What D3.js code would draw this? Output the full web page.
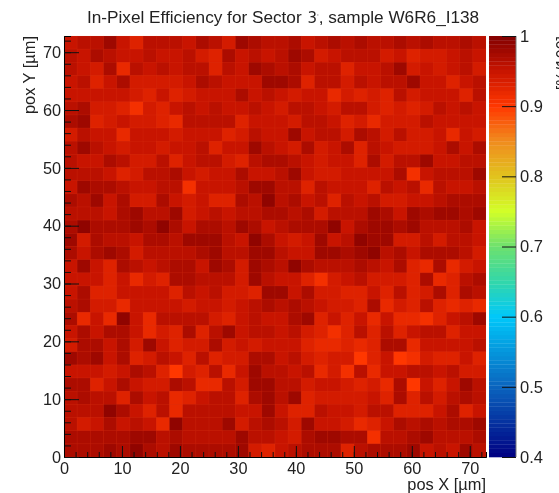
<!DOCTYPE html>
<html>
<head>
<meta charset="utf-8">
<title>In-Pixel Efficiency</title>
<script src="https://cdnjs.cloudflare.com/ajax/libs/d3/7.8.5/d3.min.js"></script>
<style>
  html, body { margin: 0; padding: 0; background: #fff; overflow: hidden; }
  svg { display: block; filter: blur(.4px); }
  text { font-family: "Liberation Sans", Arial, sans-serif; fill: #222; }
</style>
</head>
<body>
<svg width="559" height="493"></svg>
<script>
'use strict'

var title = 'In-Pixel Efficiency for Sector '
var titleEnd = ', sample W6R6_I138'
var xLabel = 'pos X [µm]'
var yLabel = 'pox Y [µm]'
var zLabel = '[%/100]'

var xMajor = [0, 10, 20, 30, 40, 50, 60, 70]
var yMajor = [0, 10, 20, 30, 40, 50, 60, 70]
var zMajor = [0.4, 0.5, 0.6, 0.7, 0.8, 0.9, 1]
var xMinor = d3.range(0, 73, 2)
var yMinor = d3.range(0, 73, 2)

var axisMax = 72.8
var binCount = 32

// palette stops
var zStops = [0.4, 0.5, 0.6, 0.65, 0.7, 0.75, 0.8, 0.85, 0.9, 0.95, 1]
var zColours = ['#000082', '#0a64be', '#00c8fa', '#32d7aa', '#6ee16e', '#d2ff28', '#e1c31e', '#f08c1e', '#ff3700', '#c81400', '#820000']

// efficiency per bin, top row first
var rows = [
  [.95,.96,.96,.98,.95,.93,.96,.96,.96,.95,.97,.96,.94,.98,.97,.96,.96,.97,.95,.96,.97,.96,.97,.96,.96,.97,.96,.97,.96,.96,.97,.96],
  [.96,.95,.97,.96,.95,.95,.96,.95,.95,.96,.94,.93,.97,.95,.96,.95,.96,.98,.97,.94,.95,.96,.96,.96,.94,.95,.93,.94,.94,.95,.96,.95],
  [.96,.95,.94,.97,.92,.96,.95,.96,.95,.96,.96,.93,.96,.95,.98,.97,.96,.97,.95,.96,.96,.93,.95,.95,.96,.98,.94,.95,.94,.95,.96,.94],
  [.95,.96,.93,.95,.97,.94,.94,.94,.94,.95,.97,.96,.95,.95,.95,.98,.98,.97,.93,.96,.96,.94,.96,.95,.96,.96,.98,.95,.95,.93,.95,.96],
  [.95,.95,.95,.95,.95,.94,.93,.95,.93,.94,.95,.95,.95,.97,.95,.96,.95,.94,.95,.95,.92,.94,.93,.94,.93,.96,.94,.95,.95,.95,.93,.96],
  [.96,.97,.94,.94,.93,.91,.94,.93,.95,.96,.95,.96,.95,.95,.96,.95,.94,.96,.96,.95,.94,.96,.96,.94,.93,.94,.93,.94,.96,.95,.96,.95],
  [.97,.98,.93,.94,.95,.94,.94,.93,.92,.96,.96,.96,.96,.93,.95,.95,.95,.94,.96,.96,.95,.93,.94,.92,.94,.94,.94,.96,.95,.95,.95,.95],
  [.94,.96,.95,.95,.92,.95,.95,.95,.94,.95,.95,.95,.93,.94,.96,.95,.95,.98,.95,.96,.96,.94,.97,.96,.94,.96,.94,.94,.95,.92,.95,.94],
  [.96,.98,.96,.95,.94,.95,.95,.94,.95,.95,.96,.93,.95,.95,.98,.96,.95,.94,.97,.94,.95,.97,.93,.96,.95,.94,.94,.94,.95,.97,.95,.97],
  [.96,.95,.95,.97,.96,.94,.94,.96,.93,.95,.96,.96,.94,.93,.96,.97,.97,.96,.95,.94,.95,.95,.93,.97,.94,.96,.96,.98,.95,.95,.96,.96],
  [.96,.96,.96,.95,.93,.94,.96,.96,.97,.95,.94,.95,.95,.97,.95,.95,.96,.98,.95,.94,.94,.95,.95,.95,.95,.97,.91,.95,.96,.96,.96,.98],
  [.95,.98,.97,.97,.96,.95,.95,.96,.96,.91,.95,.95,.95,.96,.98,.98,.96,.96,.93,.96,.95,.95,.95,.93,.96,.95,.96,.92,.96,.95,.95,.96],
  [.97,.96,.98,.95,.97,.94,.94,.97,.95,.94,.95,.93,.93,.97,.96,.99,.96,.97,.95,.96,.93,.96,.95,.96,.94,.94,.95,.95,.96,.97,.97,.97],
  [.96,.96,.96,.95,.97,.98,.96,.96,.98,.94,.95,.96,.95,.96,.96,.97,.97,.96,.97,.94,.96,.96,.96,.98,.97,.95,.98,.97,.98,.98,.97,.98],
  [.97,.99,.97,.97,.97,.98,.97,.99,.97,.95,.97,.97,.96,.98,.97,.95,.96,.97,.97,.97,.99,.95,.97,.98,.98,.97,.98,.96,.96,.96,.97,.95],
  [.98,.94,.97,.96,.96,.95,.97,.97,.96,.98,.98,.98,.96,.95,.99,.97,.95,.94,.95,.98,.95,.96,.99,.98,.98,.94,.94,.96,.94,.96,.96,.95],
  [.97,.95,.97,.98,.97,.94,.96,.96,.96,.96,.97,.98,.96,.96,.98,.98,.96,.95,.95,.98,.98,.97,.98,.99,.96,.97,.95,.97,.97,.97,.96,.94],
  [.95,.98,.95,.93,.97,.96,.95,.96,.97,.97,.95,.98,.97,.94,.98,.97,.96,.99,.97,.96,.96,.96,.97,.96,.95,.97,.93,.92,.97,.92,.94,.95],
  [.95,.95,.95,.93,.95,.92,.94,.93,.97,.97,.96,.96,.96,.94,.98,.96,.95,.95,.93,.91,.94,.95,.96,.94,.94,.94,.93,.97,.92,.93,.96,.97],
  [.95,.97,.93,.93,.95,.95,.95,.95,.93,.96,.95,.96,.94,.94,.93,.98,.98,.95,.97,.94,.94,.93,.93,.95,.93,.96,.93,.94,.97,.93,.97,.96],
  [.96,.97,.94,.94,.92,.95,.95,.95,.95,.94,.95,.95,.94,.95,.96,.97,.96,.97,.96,.95,.94,.94,.93,.97,.92,.94,.93,.96,.93,.92,.93,.92],
  [.97,.92,.95,.92,.99,.95,.92,.96,.96,.96,.96,.94,.93,.95,.96,.95,.95,.97,.98,.93,.95,.93,.95,.92,.95,.92,.92,.91,.93,.95,.96,.98],
  [.95,.97,.95,.97,.97,.95,.92,.94,.93,.97,.93,.96,.98,.95,.96,.96,.95,.96,.94,.93,.91,.93,.96,.93,.96,.93,.95,.96,.96,.93,.95,.95],
  [.94,.97,.97,.95,.97,.94,.98,.95,.93,.94,.94,.97,.94,.95,.94,.95,.95,.95,.93,.92,.92,.93,.92,.93,.97,.97,.92,.95,.95,.95,.95,.96],
  [.98,.97,.98,.95,.97,.93,.94,.96,.95,.93,.96,.93,.94,.94,.97,.97,.95,.96,.94,.93,.94,.94,.90,.93,.95,.90,.91,.94,.93,.93,.95,.93],
  [.95,.95,.95,.94,.95,.97,.96,.93,.90,.94,.93,.96,.92,.95,.98,.96,.96,.95,.96,.92,.94,.91,.96,.92,.95,.95,.96,.96,.95,.96,.94,.94],
  [.97,.97,.93,.95,.97,.95,.94,.94,.97,.96,.92,.92,.96,.94,.98,.98,.96,.96,.94,.95,.95,.94,.93,.94,.92,.97,.90,.95,.93,.95,.98,.96],
  [.96,.97,.96,.96,.93,.97,.95,.96,.92,.93,.95,.96,.96,.93,.97,.98,.96,.98,.93,.94,.94,.94,.94,.95,.93,.97,.93,.96,.94,.96,.97,.96],
  [.96,.96,.96,.99,.97,.95,.93,.96,.92,.96,.96,.96,.96,.95,.95,.98,.95,.93,.93,.96,.95,.95,.94,.96,.96,.93,.93,.93,.95,.97,.93,.95],
  [.96,.94,.95,.97,.95,.96,.95,.92,.99,.96,.96,.96,.98,.94,.96,.97,.96,.94,.98,.95,.95,.94,.92,.93,.95,.97,.96,.97,.96,.97,.97,.98],
  [.97,.97,.97,.97,.97,.98,.98,.96,.97,.96,.96,.96,.96,.98,.96,.96,.95,.94,.97,.98,.98,.97,.97,.91,.96,.96,.97,.98,.96,.96,.96,.97],
  [.97,.97,.97,.98,.97,.99,.97,.96,.98,.97,.97,.97,.97,.98,.94,.93,.95,.96,.97,.97,.97,.93,.96,.97,.97,.97,.98,.95,.96,.95,.98,.96]
]

var svg = d3.select('svg')

var plot = { left: 64, right: 486, top: 36, bottom: 457 }
var bar = { left: 489, right: 516 }

var x = d3.scaleLinear().domain([0, axisMax]).range([plot.left, plot.right])
var y = d3.scaleLinear().domain([0, axisMax]).range([plot.bottom, plot.top])
var z = d3.scaleLinear().domain([0.4, 1]).range([plot.bottom, plot.top])
var colour = d3.scaleLinear().domain(zStops).range(zColours).clamp(true)

var binWidth = axisMax / binCount

// flatten the rows to one record per bin
var bins = []
rows.forEach(function(row, r) {
  row.forEach(function(v, c) {
    bins.push({ col: c, row: binCount - 1 - r, value: v })
  })
})

// red backing so the seams between bins do not show white
svg.append('rect')
  .attr('x', plot.left)
  .attr('y', plot.top)
  .attr('width', plot.right - plot.left)
  .attr('height', plot.bottom - plot.top)
  .attr('fill', '#c81a00')

svg.append('g')
  .selectAll('rect')
  .data(bins)
  .enter().append('rect')
  .attr('x', function(d) { return x(d.col * binWidth) })
  .attr('y', function(d) { return y((d.row + 1) * binWidth) })
  .attr('width', x(binWidth) - x(0))
  .attr('height', y(0) - y(binWidth))
  .attr('fill', function(d) { return colour(d.value) })
  .attr('stroke', 'rgba(255,110,70,.09)')
  .attr('stroke-width', 0.8)

// colour bar, drawn as narrow stripes like the original palette
var stripes = d3.range(0, 100).map(function(i) { return 0.4 + i * 0.006 })
svg.append('g')
  .selectAll('rect')
  .data(stripes)
  .enter().append('rect')
  .attr('x', bar.left)
  .attr('y', function(d) { return z(d + 0.006) })
  .attr('width', bar.right - bar.left)
  .attr('height', z(0.4) - z(0.4 + 0.006) + 0.3)
  .attr('fill', function(d) { return colour(d + 0.003) })

svg.append('line')
  .attr('x1', bar.right).attr('x2', bar.right)
  .attr('y1', plot.top).attr('y2', plot.bottom)
  .attr('stroke', '#777')
  .attr('stroke-width', 1)

var tickFont = '16.3px'

var drawAxis = function(axis, translate, size) {
  var g = svg.append('g')
    .attr('transform', translate)
    .call(axis)
  g.selectAll('text').style('font-size', size).style('font-family', '"Liberation Sans", Arial, sans-serif').attr('fill', '#222')
  g.selectAll('line').attr('stroke', '#111')
  return g
}

// minor ticks first, the labelled ones go on top
drawAxis(d3.axisBottom(x).tickValues(xMinor).tickSize(-5).tickFormat(''), 'translate(0,' + plot.bottom + ')', tickFont)
drawAxis(d3.axisLeft(y).tickValues(yMinor).tickSize(-7).tickFormat(''), 'translate(' + plot.left + ',0)', tickFont)
drawAxis(d3.axisBottom(x).tickValues(xMajor).tickSize(-11).tickPadding(5).tickSizeOuter(0), 'translate(0,' + plot.bottom + ')', tickFont)
drawAxis(d3.axisLeft(y).tickValues(yMajor).tickSize(-15).tickPadding(3).tickSizeOuter(0), 'translate(' + plot.left + ',0)', tickFont)

var zAxis = drawAxis(d3.axisRight(z).tickValues(zMajor).tickSize(-14).tickPadding(4).tickSizeOuter(0).tickFormat(d3.format('')), 'translate(' + bar.right + ',0)', '16.5px')
zAxis.select('.domain').remove()

// titles
var head = svg.append('text')
  .attr('x', 87)
  .attr('y', 23)
  .style('font-size', '17.2px')
head.append('tspan').text(title)
head.append('tspan').text('3').style('font-family', '"DejaVu Sans"').style('font-size', '15px').attr('dx', 1)
head.append('tspan').text("'").attr('dy', -3).style('font-size', '9px').style('fill', '#999')
head.append('tspan').text(titleEnd).attr('dy', 3)

svg.append('text')
  .attr('x', 486)
  .attr('y', 490)
  .attr('text-anchor', 'end')
  .style('font-size', '16.4px')
  .text(xLabel)

svg.append('text')
  .attr('transform', 'translate(34.5,36) rotate(-90)')
  .attr('text-anchor', 'end')
  .style('font-size', '16.4px')
  .text(yLabel)

// this one runs off the right edge in the original too
svg.append('text')
  .attr('transform', 'translate(568,36) rotate(-90)')
  .attr('text-anchor', 'end')
  .style('font-size', '16px')
  .text(zLabel)
</script>
</body>
</html>
